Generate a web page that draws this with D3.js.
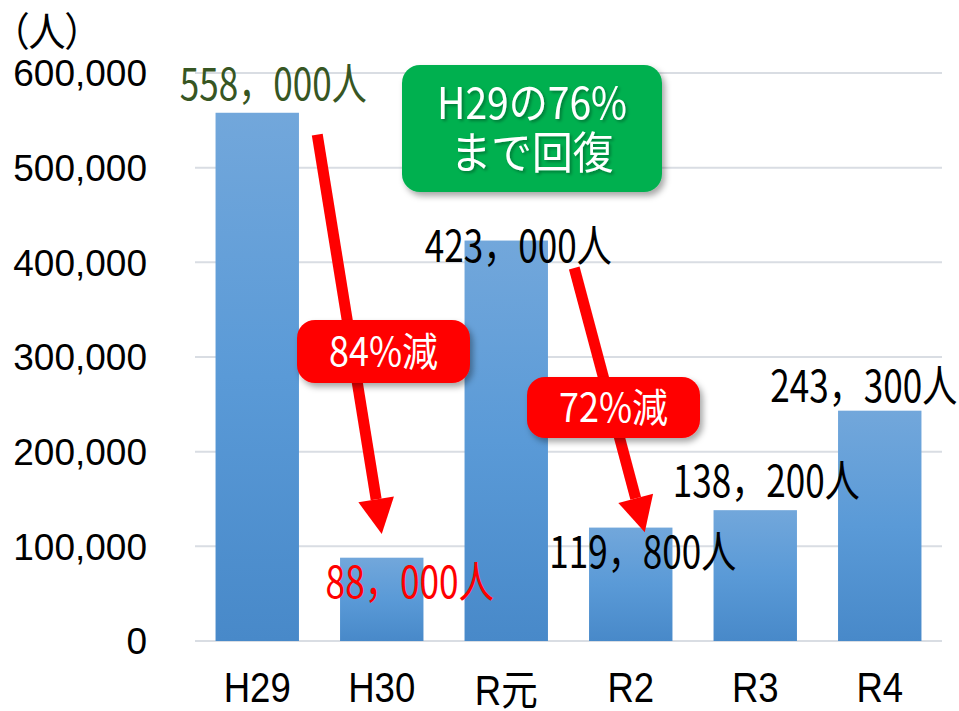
<!DOCTYPE html>
<html>
<head>
<meta charset="utf-8">
<script src="https://d3js.org/d3.v7.min.js"></script>
<style>
  body { margin: 0; background: #fff; }
  svg { display: block; }
</style>
</head>
<body>
<div id="chart"></div>
<script>
// data
var years = ["H29", "H30", "R元", "R2", "R3", "R4"];
var visitors = [558000, 88000, 423000, 119800, 138200, 243300];
var valueLabels = ["558，000人", "88，000人", "423，000人", "119，800人", "138，200人", "243，300人"];
var yTicks = [0, 100000, 200000, 300000, 400000, 500000, 600000];

// where the value labels sit relative to their bar (moved by hand in the original)
var labelDx = [16, 28, 12, 12, 11, -16];
var labelDy = [-13, 40, 21, 40, -13, -9];
var labelColor = ["#375623", "#ff0000", "#000", "#000", "#000", "#000"];

// annotation arrows and callouts
var arrows = [
  { from: "H29", fromDx: 60, fromV: 535000, to: "H30", toDx: 0, toV: 113000 },
  { from: "R元", fromDx: 68, fromV: 394000, to: "R2", toDx: 14, toV: 115000 }
];
var callouts = [
  { lines: ["H29の76%", "まで回復"], fill: "#00b050", x: 402, y: 65, w: 260, h: 127 },
  { lines: ["84%減"], fill: "#ff0000", x: 297, y: 320, w: 173, h: 63 },
  { lines: ["72%減"], fill: "#ff0000", x: 527, y: 377, w: 173, h: 61 }
];

var W = 959, H = 711;
var svg = d3.select("#chart").append("svg").attr("width", W).attr("height", H);

var defs = svg.append("defs");
var grad = defs.append("linearGradient").attr("id", "barGrad")
  .attr("x1", 0).attr("y1", 0).attr("x2", 0).attr("y2", 1);
grad.append("stop").attr("offset", "0%").attr("stop-color", "#72a7db");
grad.append("stop").attr("offset", "50%").attr("stop-color", "#5a9ad7");
grad.append("stop").attr("offset", "100%").attr("stop-color", "#4889c9");

var shadow = defs.append("filter").attr("id", "shadow")
  .attr("x", "-10%").attr("y", "-10%").attr("width", "130%").attr("height", "140%");
shadow.append("feDropShadow").attr("dx", 3).attr("dy", 4).attr("stdDeviation", 3)
  .attr("flood-color", "#000").attr("flood-opacity", 0.35);

var textShadow = defs.append("filter").attr("id", "textShadow")
  .attr("x", "-10%").attr("y", "-20%").attr("width", "130%").attr("height", "150%");
textShadow.append("feDropShadow").attr("dx", 2).attr("dy", 2).attr("stdDeviation", 1.5)
  .attr("flood-color", "#000").attr("flood-opacity", 0.3);

var x = d3.scaleBand().domain(years).range([195, 942]).paddingInner(0.33).paddingOuter(0.165);
var y = d3.scaleLinear().domain([0, 600000]).range([641, 73]);
var fmt = d3.format(",");

// gridlines
svg.append("g").selectAll("line").data(yTicks).join("line")
  .attr("x1", 195).attr("x2", 942)
  .attr("y1", function(d) { return y(d); }).attr("y2", function(d) { return y(d); })
  .attr("stroke", "#d9dde3").attr("stroke-width", 2);

// y axis labels
svg.append("g").selectAll("text").data(yTicks).join("text")
  .attr("x", 147).attr("y", function(d) { return y(d); }).attr("dy", "0.36em")
  .attr("text-anchor", "end")
  .style("font-family", "'Liberation Sans', Arial, sans-serif").style("font-size", "37px")
  .text(function(d) { return fmt(d); });

svg.append("text").attr("x", 10).attr("y", 46)
  .attr("textLength", 74).attr("lengthAdjust", "spacingAndGlyphs")
  .style("font-family", "'Noto Sans CJK JP', sans-serif").style("font-size", "40px")
  .style("font-feature-settings", "'palt'")
  .text("（人）");

// bars
svg.append("g").selectAll("rect").data(visitors).join("rect")
  .attr("x", function(d, i) { return x(years[i]); })
  .attr("width", x.bandwidth())
  .attr("y", function(d) { return y(d); })
  .attr("height", function(d) { return y(0) - y(d); })
  .attr("fill", "url(#barGrad)");

// x axis labels
svg.append("g").selectAll("text").data(years).join("text")
  .attr("transform", function(d) { return "translate(" + (x(d) + x.bandwidth() / 2) + "," + (d === "R元" ? 705 : 702) + ") scale(0.87,1)"; })
  .attr("text-anchor", "middle")
  .style("font-family", "'Liberation Sans', 'Noto Sans CJK JP', sans-serif").style("font-size", "42px")
  .text(function(d) { return d; });

// arrows
function arrowPath(a) {
  var x0 = x(a.from) + x.bandwidth() / 2 + a.fromDx, y0 = y(a.fromV);
  var x1 = x(a.to) + x.bandwidth() / 2 + a.toDx, y1 = y(a.toV);
  var ang = Math.atan2(y1 - y0, x1 - x0);
  var headLen = 35, headHalf = 18;
  var bx = x1 - headLen * Math.cos(ang), by = y1 - headLen * Math.sin(ang);
  var px = -Math.sin(ang), py = Math.cos(ang);
  return { x0: x0, y0: y0, bx: bx, by: by,
    head: [[bx + px * headHalf, by + py * headHalf], [x1, y1], [bx - px * headHalf, by - py * headHalf]] };
}
var ag = svg.append("g");
arrows.forEach(function(a) {
  var p = arrowPath(a);
  ag.append("line").attr("x1", p.x0).attr("y1", p.y0).attr("x2", p.bx).attr("y2", p.by)
    .attr("stroke", "#ff0000").attr("stroke-width", 11);
  ag.append("path").attr("d", "M" + p.head.map(function(q) { return q.join(","); }).join("L") + "Z")
    .attr("fill", "#ff0000");
});

// value labels
function labelUnits(s) {
  var u = 0;
  for (var c of s) u += /[0-9]/.test(c) ? 0.5 : 1;
  return u;
}
svg.append("g").selectAll("text").data(valueLabels).join("text")
  .attr("x", function(d, i) { return x(years[i]) + x.bandwidth() / 2 + labelDx[i]; })
  .attr("y", function(d, i) { return y(visitors[i]) + labelDy[i]; })
  .attr("text-anchor", "middle")
  .attr("textLength", function(d) { return labelUnits(d) * 37.4; })
  .attr("lengthAdjust", "spacingAndGlyphs")
  .attr("fill", function(d, i) { return labelColor[i]; })
  .style("font-family", "'Noto Sans CJK JP', sans-serif").style("font-size", "44px")
  .text(function(d) { return d; });

// callout boxes
callouts.forEach(function(c) {
  var g = svg.append("g");
  g.append("rect").attr("x", c.x).attr("y", c.y).attr("width", c.w).attr("height", c.h)
    .attr("rx", 18).attr("fill", c.fill).attr("filter", "url(#shadow)");
  var n = c.lines.length;
  c.lines.forEach(function(t, k) {
    var fs = n > 1 ? 44 : 40;
    var cy = c.y + c.h / 2 + (k - (n - 1) / 2) * 50;
    g.append("text").attr("x", c.x + c.w / 2).attr("y", cy).attr("dy", "0.36em")
      .attr("text-anchor", "middle").attr("fill", "#fff")
      .attr("textLength", n > 1 ? (k === 0 ? 190 : 163) : 109)
      .attr("lengthAdjust", "spacingAndGlyphs")
      .attr("filter", n > 1 ? "url(#textShadow)" : null)
      .style("font-family", "'Noto Sans CJK JP', sans-serif").style("font-size", fs + "px")
      .text(t);
  });
});
</script>
</body>
</html>
